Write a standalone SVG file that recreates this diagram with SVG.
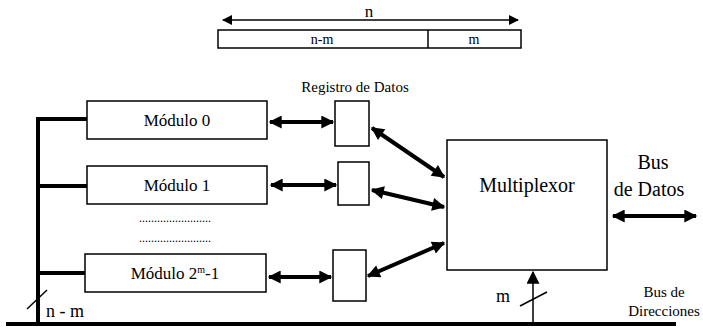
<svg xmlns="http://www.w3.org/2000/svg" width="703" height="331" viewBox="0 0 703 331">
<defs>
<style>
.box{fill:#fff;stroke:#000;stroke-width:1.5}
.thick{stroke:#000;stroke-width:4;fill:none}
.dbl{stroke:#000;stroke-width:4;fill:none;marker-start:url(#ah);marker-end:url(#ah)}
.thin{stroke:#000;stroke-width:1.5;fill:none}
</style>
<marker id="ah" viewBox="0 0 10 10" refX="9" refY="5" markerWidth="14" markerHeight="13" markerUnits="userSpaceOnUse" orient="auto-start-reverse">
<path d="M0,0 L10,5 L0,10 z" fill="#000"/>
</marker>
<marker id="ahs" viewBox="0 0 10 10" refX="9" refY="5" markerWidth="12" markerHeight="10" markerUnits="userSpaceOnUse" orient="auto-start-reverse">
<path d="M0,0 L10,5 L0,10 z" fill="#000"/>
</marker>
</defs>

<g font-family="'Liberation Serif', 'DejaVu Serif', serif" text-anchor="middle" fill="#000">
<g id="word">
<line x1="223" y1="20" x2="518" y2="20" class="thin" marker-start="url(#ahs)" marker-end="url(#ahs)"/>
<text x="369" y="17" font-size="17">n</text>
<rect x="218" y="30" width="303" height="18" class="box"/>
<line x1="428" y1="30" x2="428" y2="48" class="thin"/>
<text x="322" y="44" font-size="14">n-m</text>
<text x="474" y="44" font-size="14">m</text>
</g>

<g id="connectors">
<polyline points="87,119 38,119 38,324" class="thick"/>
<line x1="38" y1="186" x2="87" y2="186" class="thick"/>
<line x1="38" y1="273" x2="85" y2="273" class="thick"/>
<line x1="6" y1="324" x2="676" y2="324" class="thick" stroke-width="5"/>
<line x1="27" y1="309" x2="47" y2="290" class="thin"/>
<line x1="270" y1="122" x2="333" y2="122" class="dbl"/>
<line x1="271" y1="185" x2="336" y2="185" class="dbl"/>
<line x1="269" y1="277" x2="331" y2="277" class="dbl"/>
<line x1="372" y1="128" x2="444" y2="177" class="dbl"/>
<line x1="372" y1="190" x2="444" y2="207" class="dbl"/>
<line x1="368" y1="276" x2="444" y2="243" class="dbl"/>
<line x1="613" y1="216" x2="696" y2="216" class="dbl"/>
<line x1="533" y1="324" x2="533" y2="272" class="thin" stroke-width="2" marker-end="url(#ah)"/>
<line x1="520" y1="306" x2="547" y2="292" class="thin"/>
</g>

<g id="mod0">
<rect x="87" y="101" width="180" height="38" class="box"/>
<text x="177" y="126" font-size="17">Módulo 0</text>
</g>
<g id="mod1">
<rect x="87" y="166" width="180" height="38" class="box"/>
<text x="177" y="191" font-size="17">Módulo 1</text>
</g>
<g id="dots">
<text x="175" y="222" font-size="12">........................</text>
<text x="175" y="242" font-size="12">........................</text>
</g>
<g id="mod2">
<rect x="85" y="254" width="181" height="38" class="box"/>
<text x="175" y="279" font-size="17">Módulo 2<tspan dy="-6" font-size="10">m</tspan><tspan dy="6">-1</tspan></text>
</g>

<g id="reg-label"><text x="355" y="92" font-size="15">Registro de Datos</text></g>
<g id="reg0"><rect x="335" y="101" width="34" height="45" class="box"/></g>
<g id="reg1"><rect x="338" y="162" width="31" height="43" class="box"/></g>
<g id="reg2"><rect x="333" y="250" width="33" height="51" class="box"/></g>

<g id="mux">
<rect x="447" y="140" width="160" height="130" class="box"/>
<text x="527" y="192" font-size="20">Multiplexor</text>
</g>

<g id="busdatos">
<text x="653" y="169" font-size="20">Bus</text>
<text x="649" y="196" font-size="20">de Datos</text>
</g>
<g id="busdir">
<text x="664" y="297" font-size="15">Bus de</text>
<text x="664" y="316" font-size="15">Direcciones</text>
</g>
<text x="503" y="302" font-size="18">m</text>
<text x="65" y="317" font-size="18">n - m</text>
</g>
</svg>
